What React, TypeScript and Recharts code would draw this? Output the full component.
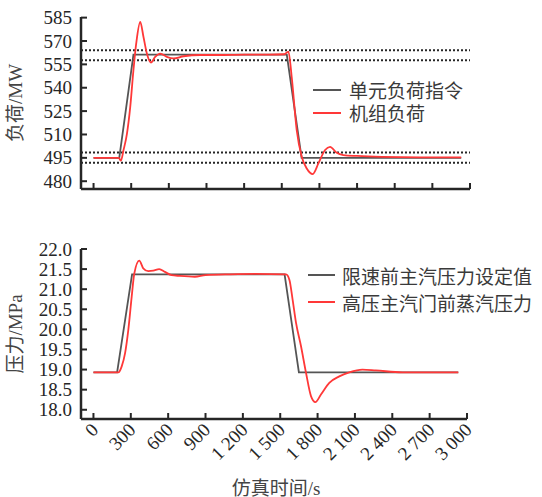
import { LineChart, Line, XAxis, YAxis, ReferenceLine, Legend, Label } from "recharts";

const timeTicks = [0, 300, 600, 900, 1200, 1500, 1800, 2100, 2400, 2700, 3000];
const loadTicks = [480, 495, 510, 525, 540, 555, 570, 585];
const pressureTicks = [18.0, 18.5, 19.0, 19.5, 20.0, 20.5, 21.0, 21.5, 22.0];
const loadBands = [564, 557.6, 498.5, 491.8];

// 单元负荷指令
const loadCmdTime = [0, 205, 318, 1540, 1658, 2930];
const loadCmdValue = [495, 495, 561.3, 561.3, 495, 495];

// 机组负荷
const unitLoadTime = [
  0, 150, 200, 218, 239, 266, 292, 318, 340, 372, 398, 425, 457, 491, 531, 584, 637, 717, 850,
  1000, 1200, 1400, 1520, 1553, 1579, 1619, 1659, 1699, 1747, 1792, 1845, 1885, 1938, 1990,
  2100, 2300, 2600, 2930,
];
const unitLoadValue = [
  495, 495, 495, 493.2, 500, 510.4, 527.4, 551.4, 568.4, 582.2, 572.6, 562, 556.2, 559.8, 561.9,
  559.8, 558.8, 560.2, 561, 561, 561.3, 561.3, 561.5, 563.2, 547, 512.8, 495.7, 488.2, 484.6,
  491.4, 500, 502.1, 498.2, 496.8, 496.2, 495.6, 495.3, 495.3,
];

// 限速前主汽压力设定值
const setPressTime = [0, 190, 310, 1535, 1650, 2930];
const setPressValue = [18.93, 18.93, 21.37, 21.37, 18.93, 18.93];

// 高压主汽门前蒸汽压力
const steamPressTime = [
  0, 200, 227, 254, 280, 307, 328, 368, 400, 440, 480, 528, 574, 627, 694, 814, 900, 1100, 1300,
  1547, 1574, 1600, 1627, 1667, 1707, 1747, 1782, 1827, 1894, 1974, 2054, 2160, 2267, 2480, 2930,
];
const steamPressValue = [
  18.93, 18.93, 19.08, 19.41, 19.99, 20.81, 21.39, 21.71, 21.52, 21.45, 21.46, 21.5, 21.43, 21.35,
  21.33, 21.31, 21.35, 21.37, 21.38, 21.37, 21.23, 20.73, 20.16, 19.58, 18.92, 18.34, 18.19,
  18.38, 18.67, 18.83, 18.93, 19.0, 18.98, 18.93, 18.93,
];

const zip = (t: number[], v: number[]) => t.map((time, i) => ({ time, value: v[i] }));

const INK = "#262626";
const CMD = "#555555";
const RED = "#ff3838";
const numFont = "Liberation Serif, serif";
const cjkFont = "Noto Sans CJK SC, sans-serif";

const fmtTime = (v: number) =>
  v >= 1000 ? `${Math.floor(v / 1000)} ${String(v % 1000).padStart(3, "0")}` : String(v);

function YTick({ x, y, payload, digits }: any) {
  const v = Number(payload.value);
  return (
    <g>
      <line x1={x} y1={y} x2={x + 6} y2={y} stroke={INK} strokeWidth={2} />
      <text x={x - 9} y={y} dy="0.35em" textAnchor="end" fill={INK} style={{ fontSize: 19, fontFamily: numFont }}>
        {digits ? v.toFixed(digits) : v}
      </text>
    </g>
  );
}

function XTickMark({ x, y }: any) {
  return <line x1={x} y1={y} x2={x} y2={y - 6} stroke={INK} strokeWidth={2} />;
}

function XTickLabel({ x, y, payload }: any) {
  const tx = x + 6;
  const ty = y + 12;
  return (
    <g>
      <line x1={x} y1={y} x2={x} y2={y - 6} stroke={INK} strokeWidth={2} />
      <text x={tx} y={ty} textAnchor="end" transform={`rotate(-45, ${tx}, ${ty})`} fill={INK} style={{ fontSize: 19, fontFamily: numFont }}>
        {fmtTime(Number(payload.value))}
      </text>
    </g>
  );
}

function YTitle({ viewBox, cjk, unit }: any) {
  const cy = viewBox.y + viewBox.height / 2;
  return (
    <text x={15} y={cy} dy="0.35em" textAnchor="middle" transform={`rotate(-90, 15, ${cy})`} fill="#444" style={{ fontSize: 19 }}>
      <tspan style={{ fontFamily: cjkFont }}>{cjk}</tspan>
      <tspan style={{ fontFamily: numFont }}>{unit}</tspan>
    </text>
  );
}

function XTitle({ viewBox }: any) {
  const cx = viewBox.x + viewBox.width / 2 + 2;
  return (
    <text x={cx} y={viewBox.y + 69} dy="0.35em" textAnchor="middle" fill="#444" style={{ fontSize: 19 }}>
      <tspan style={{ fontFamily: cjkFont }}>仿真时间</tspan>
      <tspan style={{ fontFamily: numFont }}>/s</tspan>
    </text>
  );
}

function SeriesKey({ payload, rowGap, lineLen, gap }: any) {
  return (
    <div>
      {(payload || []).map((entry: any) => (
        <div key={entry.value} style={{ display: "flex", alignItems: "center", height: rowGap }}>
          <svg width={lineLen} height={4} style={{ display: "block" }}>
            <line x1={0} y1={2} x2={lineLen} y2={2} stroke={entry.color} strokeWidth={2} />
          </svg>
          <span style={{ marginLeft: gap, fontSize: 19, fontFamily: cjkFont, color: "#3a3a3a", lineHeight: 1, whiteSpace: "nowrap" }}>
            {entry.value}
          </span>
        </div>
      ))}
    </div>
  );
}

export default function App() {
  return (
    <div style={{ position: "absolute", left: 0, top: 0, width: 542, height: 497, background: "#fff" }}>
      <LineChart width={542} height={200} margin={{ top: 17, right: 72, bottom: 0, left: 0 }}>
        <XAxis
          type="number"
          dataKey="time"
          domain={[-100, 3000]}
          ticks={timeTicks}
          interval={0}
          height={11}
          tickSize={0}
          tickMargin={0}
          tickLine={false}
          tick={<XTickMark />}
          axisLine={{ stroke: INK, strokeWidth: 2.5 }}
          allowDataOverflow
        />
        <YAxis
          type="number"
          domain={[475, 585.4]}
          ticks={loadTicks}
          interval={0}
          width={81}
          tickSize={0}
          tickMargin={0}
          tickLine={false}
          tick={<YTick />}
          axisLine={{ stroke: INK, strokeWidth: 2.5 }}
          allowDataOverflow
        >
          <Label content={<YTitle cjk="负荷" unit="/MW" />} />
        </YAxis>
        {loadBands.map((v) => (
          <ReferenceLine key={v} y={v} stroke={INK} strokeWidth={2} strokeDasharray="2 2" />
        ))}
        <Legend
          layout="vertical"
          align="center"
          verticalAlign="middle"
          wrapperStyle={{ left: 313, top: 78, width: 220 }}
          content={<SeriesKey rowGap={23} lineLen={28} gap={8} />}
        />
        <Line data={zip(loadCmdTime, loadCmdValue)} dataKey="value" name="单元负荷指令" type="linear" stroke={CMD} strokeWidth={1.8} dot={false} isAnimationActive={false} />
        <Line data={zip(unitLoadTime, unitLoadValue)} dataKey="value" name="机组负荷" type="monotone" stroke={RED} strokeWidth={1.8} dot={false} isAnimationActive={false} />
      </LineChart>
      <LineChart width={542} height={297} margin={{ top: 49, right: 75, bottom: 0, left: 0 }}>
        <XAxis
          type="number"
          dataKey="time"
          domain={[-100, 3000]}
          ticks={timeTicks}
          interval={0}
          height={78}
          tickSize={0}
          tickMargin={0}
          tickLine={false}
          tick={<XTickLabel />}
          axisLine={{ stroke: INK, strokeWidth: 2.5 }}
          allowDataOverflow
        >
          <Label content={<XTitle />} />
        </XAxis>
        <YAxis
          type="number"
          domain={[17.77, 22]}
          ticks={pressureTicks}
          interval={0}
          width={81}
          tickSize={0}
          tickMargin={0}
          tickLine={false}
          tick={<YTick digits={1} />}
          axisLine={{ stroke: INK, strokeWidth: 2.5 }}
          allowDataOverflow
        >
          <Label content={<YTitle cjk="压力" unit="/MPa" />} />
        </YAxis>
        <Legend
          layout="vertical"
          align="center"
          verticalAlign="middle"
          wrapperStyle={{ left: 308, top: 62, width: 234 }}
          content={<SeriesKey rowGap={26.7} lineLen={27} gap={7} />}
        />
        <Line data={zip(setPressTime, setPressValue)} dataKey="value" name="限速前主汽压力设定值" type="linear" stroke={CMD} strokeWidth={1.8} dot={false} isAnimationActive={false} />
        <Line data={zip(steamPressTime, steamPressValue)} dataKey="value" name="高压主汽门前蒸汽压力" type="monotone" stroke={RED} strokeWidth={1.8} dot={false} isAnimationActive={false} />
      </LineChart>
    </div>
  );
}
